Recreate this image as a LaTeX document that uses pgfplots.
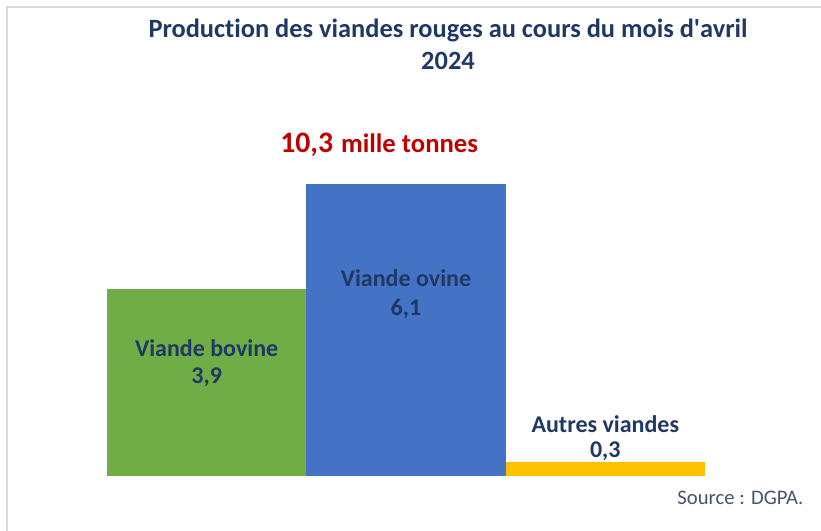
\documentclass[border=0pt]{standalone}
\usepackage{pgfplots}
\pgfplotsset{compat=1.18}
\usepackage{fontspec}
\setmainfont{Carlito}[Ligatures={TeX,NoCommon}]
\definecolor{navy}{RGB}{31,56,100}
\definecolor{bgreen}{RGB}{112,173,71}
\definecolor{bblue}{RGB}{68,114,196}
\definecolor{byellow}{RGB}{255,192,0}
\definecolor{dred}{RGB}{192,0,0}
\definecolor{srcgray}{RGB}{68,84,106}
\begin{document}
\begin{tikzpicture}[x=0.75pt,y=0.75pt]
\useasboundingbox (0,0) rectangle (821,531);
\draw[color={rgb,255:red,217;green,217;blue,217}, line width=1.5pt] (7,0) -- (7,524) -- (821,524);
\node[font=\bfseries\fontsize{19.8}{22}\selectfont, text=navy, anchor=base] at (448,531-38) {Production des viandes rouges au cours du mois d\textquotesingle avril};
\node[font=\bfseries\fontsize{19.8}{22}\selectfont, text=navy, anchor=base] at (448,531-70) {2024};
\begin{axis}[at={(80.25pt,41.25pt)}, anchor=south west, scale only axis,
  width=448.5pt, height=219pt, xmin=0, xmax=3, ymin=0, ymax=6.1,
  hide axis, clip=false]
\addplot[ybar, bar shift=0pt, bar width=1, fill=bgreen, draw=none] coordinates {(0.5,3.9)};
\addplot[ybar, bar shift=0pt, bar width=1, fill=bblue, draw=none] coordinates {(1.5,6.1)};
\addplot[ybar, bar shift=0pt, bar width=1, fill=byellow, draw=none] coordinates {(2.5,0.3)};
\node[font=\bfseries\fontsize{18}{20}\selectfont, text=navy, anchor=base] at (axis cs:0.5,2.49) {Viande bovine};
\node[font=\bfseries\fontsize{18}{20}\selectfont, text=navy, anchor=base] at (axis cs:0.5,1.94) {3,9};
\node[font=\bfseries\fontsize{18}{20}\selectfont, text=navy, anchor=base] at (axis cs:1.5,3.95) {Viande ovine};
\node[font=\bfseries\fontsize{18}{20}\selectfont, text=navy, anchor=base] at (axis cs:1.5,3.36) {6,1};
\node[font=\bfseries\fontsize{18}{20}\selectfont, text=navy, anchor=base] at (axis cs:2.5,0.90) {Autres viandes};
\node[font=\bfseries\fontsize{18}{20}\selectfont, text=navy, anchor=base] at (axis cs:2.5,0.38) {0,3};
\node[anchor=base, text=dred, font=\bfseries] at (axis cs:1.365,6.75) {{\fontsize{22.3}{24}\selectfont 10,3}\hspace{6pt}{\fontsize{20}{22}\selectfont mille tonnes}};
\end{axis}
\node[font=\fontsize{15.5}{18}\selectfont, text=srcgray, anchor=base east] at (808,531-505) {Source : DGPA.};
\end{tikzpicture}
\end{document}
